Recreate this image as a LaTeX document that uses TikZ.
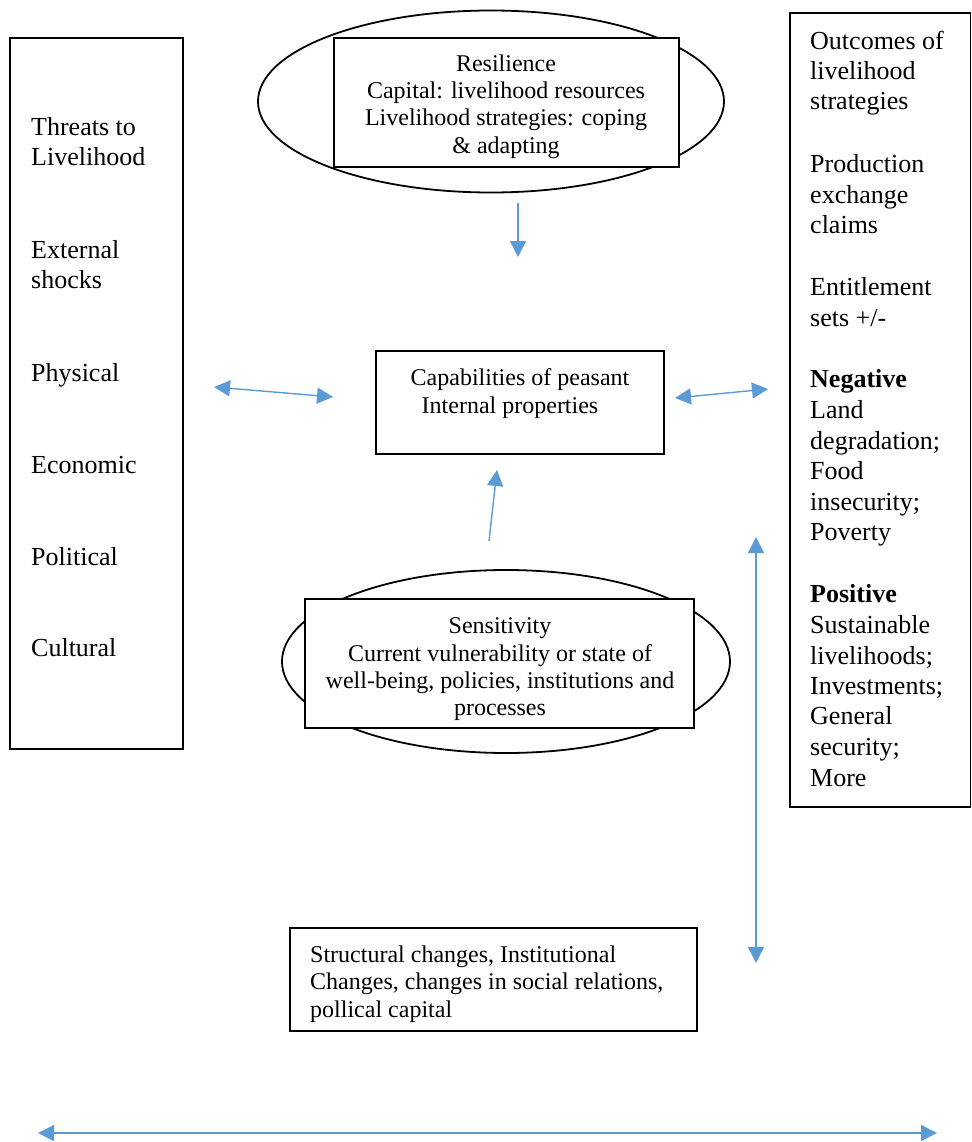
\documentclass[tikz,border=0pt]{standalone}
\usepackage{fontspec}
\setmainfont{Liberation Serif}
\usetikzlibrary{arrows.meta}
\definecolor{arr}{RGB}{91,155,213}
\tikzset{
  frame/.style={draw=black,line width=1.2pt,fill=white},
  oval/.style={draw=black,line width=1.8pt},
  tip/.tip={Triangle[length=16pt,width=16pt]},
  conn/.style={draw=arr,line width=1.4pt,tip-tip},
  oneway/.style={draw=arr,line width=1.4pt,-tip},
  bigtxt/.style={inner sep=0pt,font=\fontsize{26}{30}\selectfont},
  midtxt/.style={inner sep=0pt,font=\fontsize{24}{28}\selectfont},
}
\begin{document}
\begin{tikzpicture}[x=1pt,y=-1pt]
\useasboundingbox (0,0) rectangle (971,1142);
% left box
\draw[frame] (10,38) rectangle (183,749);
\node[bigtxt,anchor=base west] (L1) at (31,136) {Threats to};
\node[bigtxt,anchor=base west] (L2) at (31,166) {Livelihood};
\node[bigtxt,anchor=base west] (L3) at (31,258) {External};
\node[bigtxt,anchor=base west] (L4) at (31,288) {shocks};
\node[bigtxt,anchor=base west] (L5) at (31,381) {Physical};
\node[bigtxt,anchor=base west] (L6) at (31,473) {Economic};
\node[bigtxt,anchor=base west] (L7) at (31,565) {Political};
\node[bigtxt,anchor=base west] (L8) at (31,656) {Cultural};
% right box
\begin{scope}
\clip (780,13) rectangle (971,807);
\draw[frame] (790,13) rectangle (970.5,807);
\foreach \n/\y/\t in {1/40/Outcomes of,2/70/livelihood,3/100/strategies,
  4/162/Production,5/193/exchange,6/223/claims,
  7/285/Entitlement,8/316/{sets +/-},
  9/377/\textbf{Negative},10/408/Land,11/439/degradation;,12/469/Food,13/500/insecurity;,14/530/Poverty,
  15/592/\textbf{Positive},16/623/Sustainable,17/654/livelihoods;,18/684/Investments;,19/714/General,20/745/security;,21/776/More}
  \node[bigtxt,anchor=base west] (R\n) at (810,\y+10) {\t};
\end{scope}
% top ellipse
\draw[oval] (491,101.5) ellipse [x radius=233, y radius=91];
\draw[frame] (334,38) rectangle (679,167);
\node[midtxt,anchor=base] (T1) at (506,72) {Resilience};
\node[midtxt,anchor=base] (T2) at (506,99) {Capital: livelihood resources};
\node[midtxt,anchor=base] (T3) at (506,126) {Livelihood strategies: coping};
\node[midtxt,anchor=base] (T4) at (506,154) {\& adapting};
% center box
\draw[frame] (376,351) rectangle (664,454);
\node[midtxt,anchor=base] (C1) at (520,385) {Capabilities of peasant};
\node[midtxt,anchor=base] (C2) at (510,413) {Internal properties};
% sensitivity ellipse
\draw[oval] (506,661.5) ellipse [x radius=224, y radius=91.5];
\draw[frame] (305,599) rectangle (694,728);
\node[midtxt,anchor=base] (S1) at (500,633) {Sensitivity};
\node[midtxt,anchor=base] (S2) at (500,661) {Current vulnerability or state of};
\node[midtxt,anchor=base] (S3) at (500,688) {well-being, policies, institutions and};
\node[midtxt,anchor=base] (S4) at (500,715) {processes};
% bottom box
\draw[frame] (290,928) rectangle (697,1031);
\node[midtxt,anchor=base west] (B1) at (310,962) {Structural changes, Institutional};
\node[midtxt,anchor=base west] (B2) at (310,989) {Changes, changes in social relations,};
\node[midtxt,anchor=base west] (B3) at (310,1017) {pollical capital};
% connector end points
\coordinate (a1) at (518,203);
\coordinate (a2) at (518,257);
\coordinate (b1) at (214,387);
\coordinate (b2) at (333,397);
\coordinate (c1) at (675,398);
\coordinate (c2) at (768,389);
\coordinate (d1) at (489,541);
\coordinate (d2) at (497,470);
\coordinate (e1) at (756,537);
\coordinate (e2) at (756,963);
\coordinate (f1) at (38,1133);
\coordinate (f2) at (937,1133);
\draw[oneway] (a1) -- (a2);
\draw[conn] (b1) -- (b2);
\draw[conn] (c1) -- (c2);
\draw[oneway] (d1) -- (d2);
\draw[conn] (e1) -- (e2);
\draw[conn] (f1) -- (f2);
\end{tikzpicture}
\end{document}
